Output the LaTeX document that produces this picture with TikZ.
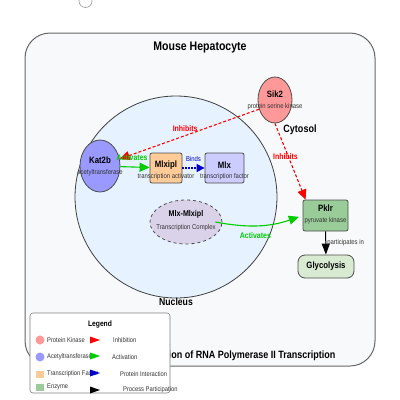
\documentclass[tikz,border=0pt]{standalone}
\usepackage{fontspec}
\setmainfont{Liberation Sans}[FakeStretch=0.85]
\usetikzlibrary{arrows.meta,positioning,shapes.geometric}

\definecolor{cellbg}{HTML}{F8F9FA}
\definecolor{nucbg}{HTML}{E6F2FF}
\definecolor{kinasec}{HTML}{FF9999}
\definecolor{acetylc}{HTML}{9999FF}
\definecolor{tfc}{HTML}{FFCC99}
\definecolor{mlxc}{HTML}{CCCCFF}
\definecolor{cplxc}{HTML}{D9D2E9}
\definecolor{enzc}{HTML}{99CC99}
\definecolor{procc}{HTML}{D9EAD3}
\definecolor{inhc}{HTML}{FF0000}
\definecolor{actc}{HTML}{00CC00}
\definecolor{bindc}{HTML}{0000CC}

\tikzset{
  ename/.style={font=\bfseries\fontsize{9.2}{10}\selectfont, inner sep=0pt},
  esub/.style={font=\fontsize{7}{8}\selectfont, text=black!80, inner sep=0pt},
  oval/.style={ellipse, draw=black!70, line width=0.8pt, inner sep=0pt},
  gbox/.style={rectangle, rounded corners=2pt, draw=black!70, line width=0.8pt, inner sep=0pt},
  elabel/.style={font=\bfseries\fontsize{8.2}{9}\selectfont, inner sep=1pt},
  legtext/.style={font=\fontsize{6.8}{8}\selectfont, text=black!80, inner sep=0pt, anchor=west},
  inhib/.style={inhc, dash pattern=on 3pt off 2pt, line width=1.1pt, -{Triangle[length=10pt,width=9pt]}},
  activ/.style={actc, line width=1.1pt, -{Triangle[length=10pt,width=9pt]}},
  bind/.style={bindc, dash pattern=on 1.5pt off 1.5pt, line width=1.1pt, -{Triangle[length=8pt,width=8pt]}},
  partic/.style={black, line width=1pt, -{Triangle[length=11pt,width=8pt]}}
}

\begin{document}
\begin{tikzpicture}[x=1pt,y=-1pt]
\useasboundingbox (0,0) rectangle (400,400);

% Draw stray circle.
\draw[black!40, line width=0.6pt] (85.5,1) circle (6.5pt);

% Draw cell and nucleus.
\draw[fill=cellbg, draw=black!60, line width=1pt, rounded corners=25pt] (25,33) rectangle (375,366);
\node[font=\bfseries\fontsize{12.4}{14}\selectfont] (celltitle) at (200,48) {Mouse Hepatocyte};
\node[font=\bfseries\fontsize{10.6}{12}\selectfont, anchor=east] (proctitle) at (339,356) {Regulation of RNA Polymerase II Transcription};
\draw[fill=nucbg, draw=black!75, line width=0.8pt] (176,197) circle (101pt);
\node[font=\bfseries\fontsize{10.2}{12}\selectfont] (nuctitle) at (176,302) {Nucleus};
\node[font=\bfseries\fontsize{10.6}{12}\selectfont] (cyttitle) at (300,130) {Cytosol};

% Draw genes and products.
\node[oval, fill=kinasec, minimum width=34pt, minimum height=46pt] (sik) at (275,100) {};
\node[ename] (sikname) at (275,94) {Sik2};
\node[esub] (siksub) at (275,107) {protein serine kinase};

\node[oval, fill=acetylc, minimum width=40pt, minimum height=52pt] (kat) at (100,166) {};
\node[ename] (katname) at (100,160) {Kat2b};
\node[esub] (katsub) at (100,173) {acetyltransferase};

\node[gbox, fill=tfc, minimum width=32pt, minimum height=30pt] (mlxipl) at (166,168) {};
\node[ename] (mlxiplname) at (166,165) {Mlxipl};
\node[esub] (mlxiplsub) at (166,177) {transcription activator};

\node[gbox, fill=mlxc, minimum width=39pt, minimum height=30pt] (mlx) at (224.5,168) {};
\node[ename] (mlxname) at (224.5,165) {Mlx};
\node[esub] (mlxsub) at (224.5,177) {transcription factor};

\node[oval, fill=cplxc, dashed, minimum width=72pt, minimum height=44pt] (cplx) at (186,222) {};
\node[ename, font=\bfseries\fontsize{8.4}{10}\selectfont] (cplxname) at (186,214) {Mlx-Mlxipl};
\node[esub] (cplxsub) at (186,228) {Transcription Complex};

\node[gbox, fill=enzc, minimum width=45pt, minimum height=31pt] (pklr) at (325.5,215.5) {};
\node[ename] (pklrname) at (325.5,208.5) {Pklr};
\node[esub] (pklrsub) at (325.5,221) {pyruvate kinase};

\node[gbox, fill=procc, rounded corners=7pt, minimum width=56pt, minimum height=23pt] (glyco) at (326,266.5) {};
\node[ename] (glyconame) at (326,266.5) {Glycolysis};

% Draw interactions.
\draw[inhib] (sik.210) -- node[elabel, inhc, above, pos=0.53, yshift=2pt] (lblinh1) {Inhibits} (kat);
\draw[inhib] (sik.south) -- node[elabel, inhc, pos=0.44, xshift=-3pt] (lblinh2) {Inhibits} ([xshift=3pt]pklr.north west);
\draw[activ] (kat) -- node[elabel, actc, above, pos=0.4, yshift=5pt] (lblact1) {Activates} (mlxipl);
\draw[bind] (mlxipl) -- node[elabel, bindc, above, yshift=5pt, font=\fontsize{7}{8}\selectfont] (lblbind) {Binds} (mlx);
\draw[activ, shorten >=4pt] ([xshift=-7pt]cplx.east) to[bend right=15] node[elabel, actc, below, pos=0.45, yshift=-5pt] (lblact2) {Activates} (pklr.west);
\draw[partic] (pklr) -- node[esub, right, inner sep=1pt] (lblpart) {participates in} (glyco);

% Draw legend.
\draw[fill=white, draw=black!50, line width=0.6pt, rounded corners=3pt] (30,313) rectangle (170,393);
\node[font=\bfseries\fontsize{7.9}{9}\selectfont] (legtitle) at (100,324) {Legend};
\foreach \y/\c/\t in {340/kinasec/Protein Kinase, 357/acetylc/Acetyltransferase}
{
\fill[\c] (40,\y) circle (4.5pt);
\node[legtext] (legc\y) at (47,\y) {\t};
}
\foreach \y/\c/\t in {374/tfc/Transcription Factor, 387/enzc/Enzyme}
{
\fill[\c] (36,\y-3.5) rectangle (44,\y+3.5);
\node[legtext] (legs\y) at (47,\y) {\t};
}
\foreach \y/\c in {340/inhc, 356/actc, 373/bindc, 390/black}
\fill[\c] (90,\y-3.5) -- (100,\y) -- (90,\y+3.5) -- cycle;
\foreach \x/\y/\t in {113/340/Inhibition, 112/357/Activation, 120/374/Protein Interaction, 123/390/Process Participation}
\node[legtext] (lega\y) at (\x,\y) {\t};
\end{tikzpicture}
\end{document}
